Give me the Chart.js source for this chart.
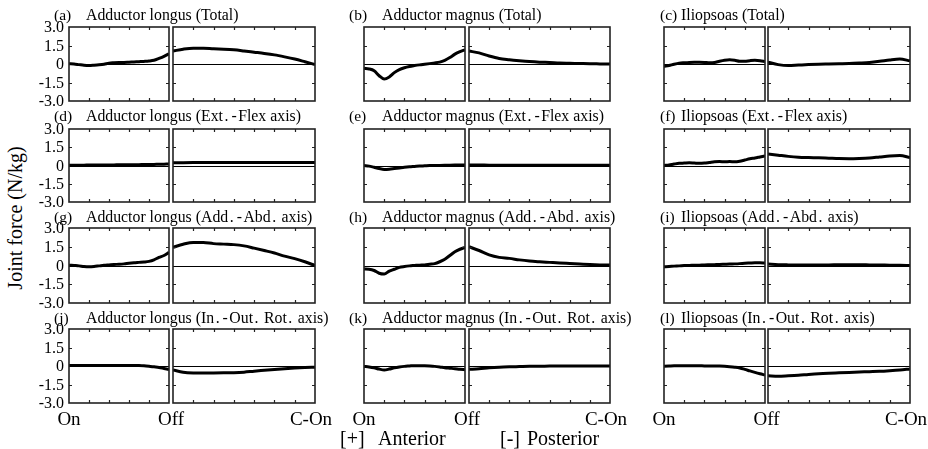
<!DOCTYPE html>
<html><head><meta charset="utf-8">
<script src="https://cdn.jsdelivr.net/npm/chart.js@4.4.1/dist/chart.umd.min.js"></script>
<style>
html,body{margin:0;padding:0;background:#fff;}
#wrap{position:relative;width:928px;height:449px;overflow:hidden;background:#fff;font-family:"Liberation Serif",serif;color:#000;}
canvas{position:absolute;}
.t{position:absolute;white-space:nowrap;line-height:1;}
.p{margin:0 1.5px;}
</style></head><body><div id="wrap"></div>
<script>
// ---------- data ----------
const xLeft  = [0,5,10,15,20,25,30,35,40,45,50,55,60,65,70,75,80,85,90,95,100];
const xRight = [0,10,20,30,40,50,60,70,80,90,100,110,120,130,140];
const xLeftTicks  = [20,40,60,80];
const xRightTicks = [20,40,60,80,100,120];
const yTickValues = [3.0,1.5,0,-1.5,-3.0];
const yTickLabels = ['3.0','1.5','0','-1.5','-3.0'];
const xEndLabels  = ['On','Off','C-On'];
const panelLetters = ['(a)','(b)','(c)','(d)','(e)','(f)','(g)','(h)','(i)','(j)','(k)','(l)'];
const panelNames = [
  'Adductor longus (Total)','Adductor magnus (Total)','Iliopsoas (Total)',
  'Adductor longus (Ext.-Flex axis)','Adductor magnus (Ext.-Flex axis)','Iliopsoas (Ext.-Flex axis)',
  'Adductor longus (Add.-Abd. axis)','Adductor magnus (Add.-Abd. axis)','Iliopsoas (Add.-Abd. axis)',
  'Adductor longus (In.-Out. Rot. axis)','Adductor magnus (In.-Out. Rot. axis)','Iliopsoas (In.-Out. Rot. axis)'
];
const yAxisTitle = 'Joint force (N/kg)';
const legendItems = [['[+]','Anterior'],['[-]','Posterior']];

// (a)
const aLeft  = [0.02,0.0,-0.05,-0.1,-0.12,-0.1,-0.07,-0.02,0.07,0.1,0.12,0.13,0.15,0.17,0.19,0.21,0.24,0.3,0.45,0.62,0.83];
const aRight = [1.05,1.2,1.28,1.28,1.23,1.2,1.15,1.06,0.96,0.86,0.74,0.58,0.4,0.18,-0.05];
// (b)
const bLeft  = [-0.35,-0.4,-0.55,-0.95,-1.22,-1.05,-0.7,-0.45,-0.3,-0.2,-0.13,-0.07,-0.02,0.03,0.08,0.15,0.3,0.52,0.8,1.0,1.15];
const bRight = [1.05,0.9,0.65,0.45,0.35,0.27,0.2,0.15,0.12,0.08,0.06,0.04,0.02,0.01,0.0];
// (c)
const cLeft  = [-0.2,-0.12,-0.02,0.06,0.1,0.13,0.14,0.14,0.13,0.1,0.12,0.22,0.3,0.34,0.3,0.22,0.22,0.27,0.3,0.27,0.2];
const cRight = [0.15,-0.05,-0.13,-0.09,-0.05,-0.02,0.0,0.02,0.04,0.08,0.13,0.22,0.33,0.4,0.26];
// (d)
const dLeft  = [0.03,0.03,0.03,0.03,0.04,0.04,0.04,0.05,0.05,0.05,0.06,0.06,0.06,0.07,0.07,0.08,0.08,0.09,0.1,0.11,0.12];
const dRight = [0.22,0.23,0.24,0.25,0.25,0.25,0.25,0.25,0.25,0.25,0.25,0.25,0.25,0.25,0.24];
// (e)
const eLeft  = [0,-0.05,-0.15,-0.25,-0.32,-0.3,-0.25,-0.2,-0.15,-0.11,-0.08,-0.05,-0.03,-0.01,0,0.01,0.02,0.03,0.04,0.05,0.05];
const eRight = [0.04,0.04,0.03,0.03,0.03,0.03,0.03,0.03,0.02,0.02,0.02,0.02,0.02,0.02,0.02];
// (f)
const fLeft  = [0,0.05,0.12,0.18,0.2,0.22,0.2,0.18,0.2,0.25,0.3,0.32,0.3,0.32,0.3,0.35,0.45,0.55,0.62,0.7,0.78];
const fRight = [0.95,0.85,0.75,0.68,0.65,0.63,0.6,0.57,0.56,0.58,0.62,0.7,0.78,0.82,0.65];
// (g)
const gLeft  = [0.03,0.0,-0.03,-0.08,-0.1,-0.08,-0.03,0.02,0.05,0.08,0.1,0.13,0.18,0.22,0.25,0.28,0.33,0.45,0.65,0.8,1.05];
const gRight = [1.45,1.7,1.85,1.84,1.75,1.71,1.67,1.57,1.39,1.2,1.0,0.75,0.55,0.3,0.0];
// (h)
const hLeft  = [-0.28,-0.3,-0.4,-0.62,-0.68,-0.45,-0.3,-0.15,-0.08,-0.03,0.0,0.03,0.05,0.1,0.15,0.3,0.5,0.8,1.1,1.3,1.45];
const hRight = [1.5,1.2,0.85,0.65,0.57,0.45,0.36,0.3,0.25,0.2,0.16,0.12,0.08,0.05,0.03];
// (i)
const iLeft  = [-0.1,-0.08,-0.05,-0.03,0,0.01,0.02,0.03,0.05,0.06,0.07,0.08,0.1,0.12,0.13,0.15,0.18,0.2,0.22,0.22,0.2];
const iRight = [0.12,0.07,0.05,0.04,0.04,0.05,0.05,0.06,0.06,0.06,0.05,0.04,0.03,0.02,0.0];
// (j)
const jLeft  = [0.05,0.05,0.05,0.05,0.05,0.05,0.05,0.05,0.05,0.05,0.05,0.05,0.05,0.05,0.04,0.02,-0.02,-0.07,-0.12,-0.2,-0.28];
const jRight = [-0.32,-0.5,-0.56,-0.57,-0.56,-0.55,-0.54,-0.5,-0.42,-0.35,-0.28,-0.22,-0.17,-0.13,-0.1];
// (k)
const kLeft  = [-0.03,-0.08,-0.15,-0.25,-0.32,-0.25,-0.15,-0.08,-0.03,0.0,0.03,0.03,0.02,0.0,-0.03,-0.08,-0.14,-0.18,-0.22,-0.27,-0.3];
const kRight = [-0.27,-0.22,-0.15,-0.1,-0.07,-0.05,-0.03,-0.02,-0.01,0,0,0,0,0,0];
// (l)
const lLeft  = [-0.02,0,0.02,0.03,0.03,0.03,0.02,0.02,0.01,0.01,0,-0.01,-0.03,-0.06,-0.1,-0.16,-0.27,-0.4,-0.52,-0.63,-0.73];
const lRight = [-0.8,-0.84,-0.8,-0.75,-0.68,-0.62,-0.58,-0.55,-0.52,-0.49,-0.46,-0.43,-0.38,-0.32,-0.24];

const panelSeries = [
  [aLeft,aRight],[bLeft,bRight],[cLeft,cRight],
  [dLeft,dRight],[eLeft,eRight],[fLeft,fRight],
  [gLeft,gRight],[hLeft,hRight],[iLeft,iRight],
  [jLeft,jRight],[kLeft,kRight],[lLeft,lRight]
];

// ---------- layout ----------
const colBoxes = [
  {L:[69,169], R:[173,315], letterX:54,  nameX:86},
  {L:[364,465],R:[469,610], letterX:349, nameX:382},
  {L:[664,765],R:[768,910], letterX:660, nameX:681}
];
const rowBoxes = [[27,101],[129,202],[228,303],[329,403]];
const titleY = [15,116,217,318];
const PAD = 3;

const wrap = document.getElementById('wrap');
function addText(txt, x, y, size, align, extra){
  const d = document.createElement('div');
  d.className='t'; d.textContent = txt;
  d.style.fontSize = size+'px';
  d.style.left = x+'px'; d.style.top = y+'px';
  let tx = align==='center' ? '-50%' : (align==='right' ? '-100%' : '0');
  d.style.transform = 'translate('+tx+',-50%)' + (extra||'');
  wrap.appendChild(d);
  return d;
}
// title text: the inner part keeps its text, with wider punctuation like the original typeface
function addTitle(txt, x, y, size){
  const d = addText('', x, y, size, 'left');
  const open = txt.indexOf('(');
  d.appendChild(document.createTextNode(txt.slice(0, open)));
  const rest = txt.slice(open);
  for (const ch of rest){
    if ((ch==='.' || ch==='-') ){
      const s = document.createElement('span'); s.className='p'; s.textContent = ch; d.appendChild(s);
    } else d.appendChild(document.createTextNode(ch));
  }
  return d;
}

const framePlugin = {
  id:'frame',
  beforeDatasetsDraw(chart){
    const {ctx, chartArea:a, scales:{y}} = chart;
    ctx.save(); ctx.strokeStyle='#000'; ctx.lineWidth=1;
    const y0 = Math.round(y.getPixelForValue(0))+0.5;
    ctx.beginPath(); ctx.moveTo(a.left,y0); ctx.lineTo(a.right,y0); ctx.stroke();
    ctx.restore();
  },
  afterDatasetsDraw(chart, args, opts){
    const {ctx, chartArea:a, scales:{x,y}} = chart;
    ctx.save();
    ctx.strokeStyle='#222'; ctx.lineWidth=1.6;
    ctx.strokeRect(a.left, a.top, a.right-a.left, a.bottom-a.top);
    ctx.lineWidth=1.2; ctx.beginPath();
    for (const v of opts.xt){
      const px = Math.round(x.getPixelForValue(v))+0.5;
      ctx.moveTo(px,a.top); ctx.lineTo(px,a.top+3);
      ctx.moveTo(px,a.bottom); ctx.lineTo(px,a.bottom-3);
    }
    for (const v of [1.5,-1.5]){
      const py = Math.round(y.getPixelForValue(v))+0.5;
      ctx.moveTo(a.left,py); ctx.lineTo(a.left+3,py);
      ctx.moveTo(a.right,py); ctx.lineTo(a.right-3,py);
    }
    ctx.stroke(); ctx.restore();
  }
};

function makeChart(box, rb, xs, ys, xmax, xt){
  const c = document.createElement('canvas');
  const w = box[1]-box[0] + 2*PAD, h = rb[1]-rb[0] + 2*PAD;
  c.width = w; c.height = h;
  c.style.left = (box[0]-PAD)+'px'; c.style.top = (rb[0]-PAD)+'px';
  c.style.width = w+'px'; c.style.height = h+'px';
  wrap.appendChild(c);
  return new Chart(c, {
    type:'line',
    data:{datasets:[{
      data: xs.map((x,i)=>({x:x, y:ys[i]})),
      borderColor:'#000', borderWidth:3, pointRadius:0,
      cubicInterpolationMode:'monotone', fill:false
    }]},
    options:{
      responsive:false, animation:false, devicePixelRatio:1, events:[],
      layout:{padding:PAD},
      plugins:{legend:{display:false}, tooltip:{enabled:false}, frame:{xt:xt}},
      scales:{
        x:{type:'linear', display:false, min:0, max:xmax},
        y:{type:'linear', display:false, min:-3, max:3}
      }
    },
    plugins:[framePlugin]
  });
}

for (let p=0; p<12; p++){
  const r = Math.floor(p/3), col = p%3;
  const cb = colBoxes[col], rb = rowBoxes[r];
  const chL = makeChart(cb.L, rb, xLeft, panelSeries[p][0], 100, xLeftTicks);
  makeChart(cb.R, rb, xRight, panelSeries[p][1], 140, xRightTicks);
  addText(panelLetters[p], cb.letterX, titleY[r], 15.5, 'left');
  addTitle(panelNames[p], cb.nameX, titleY[r], 15.8);
  if (col===0){
    yTickValues.forEach((v,i)=>{
      const py = rb[0]-PAD + chL.scales.y.getPixelForValue(v);
      addText(yTickLabels[i], 64, py, 16, 'right');
    });
  }
  if (r===3){
    const ly = 418;
    addText(xEndLabels[0], cb.L[0], ly, 19, 'center');
    addText(xEndLabels[1], (cb.L[1]+cb.R[0])/2, ly, 19, 'center');
    addText(xEndLabels[2], cb.R[1]-4, ly, 19, 'center');
  }
}
// y axis title
addText(yAxisTitle, 15, 218, 20, 'center', ' rotate(-90deg)');
// legend
addText(legendItems[0][0], 340, 438, 20, 'left');
addText(legendItems[0][1], 378, 438, 20, 'left');
addText(legendItems[1][0], 500, 438, 20, 'left');
addText(legendItems[1][1], 527, 438, 20, 'left');
</script>
</body></html>
